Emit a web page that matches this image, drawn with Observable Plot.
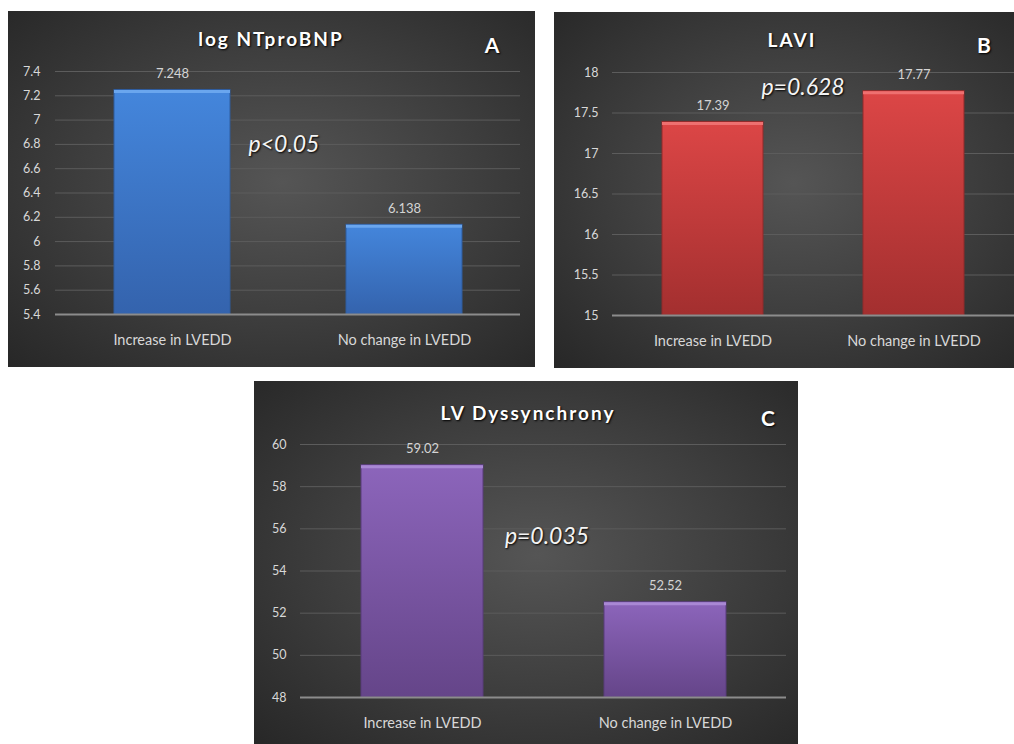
<!DOCTYPE html>
<html><head><meta charset="utf-8">
<script src="https://cdn.jsdelivr.net/npm/d3@7"></script>
<script src="https://cdn.jsdelivr.net/npm/@observablehq/plot@0.6"></script>
<style>
body{margin:0;background:#fff;}
#root{position:relative;width:1014px;height:744px;overflow:hidden;font-family:Lato,"Open Sans",sans-serif;}
.panel{position:absolute;background:radial-gradient(ellipse 75% 75% at 52% 48%, #555555 0%, #3e3e3e 50%, #262626 100%);}
.panel svg{position:absolute;left:0;top:0;}
.ann{position:absolute;transform:translate(-50%,-50%);white-space:nowrap;color:#fff;text-shadow:1px 1px 2px #000;}
.title{font-weight:bold;font-size:19px;letter-spacing:2px;}
.letter{font-weight:bold;font-size:21px;}
.pval{font-style:italic;font-size:23px;color:#f4f4f4;}
</style></head>
<body><div id="root"></div>
<script>
// ---- data ----
const categories = ["Increase in LVEDD", "No change in LVEDD"];
const ntprobnpValues = [7.248, 6.138];
const laviValues = [17.39, 17.77];
const dyssynchronyValues = [59.02, 52.52];
const ticksA = [5.4, 5.6, 5.8, 6, 6.2, 6.4, 6.6, 6.8, 7, 7.2, 7.4];
const ticksB = [15, 15.5, 16, 16.5, 17, 17.5, 18];
const ticksC = [48, 50, 52, 54, 56, 58, 60];
const titles = ["log NTproBNP", "LAVI", "LV Dyssynchrony"];
const letters = ["A", "B", "C"];
const pValues = ["p<0.05", "p=0.628", "p=0.035"];

// gradients for bars
const defs = d3.select("body").append("svg").attr("width", 0).attr("height", 0)
  .style("position", "absolute").append("defs");
function grad(id, top, bottom) {
  const g = defs.append("linearGradient").attr("id", id).attr("x1", 0).attr("y1", 0).attr("x2", 0).attr("y2", 1);
  g.append("stop").attr("offset", "0%").attr("stop-color", top);
  g.append("stop").attr("offset", "100%").attr("stop-color", bottom);
}
grad("gBlue", "#4486dc", "#3463ad");
grad("gRed", "#dc4646", "#a32f2f");
grad("gPurple", "#8c65bb", "#654589");

const root = document.getElementById("root");

function makePanel(cfg) {
  const div = document.createElement("div");
  div.className = "panel";
  Object.assign(div.style, {left: cfg.left + "px", top: cfg.top + "px", width: cfg.w + "px", height: cfg.h + "px"});
  const data = categories.map((c, i) => ({cat: c, v: cfg.values[i], base: cfg.ticks[0]}));
  const chart = Plot.plot({
    width: cfg.w, height: cfg.h,
    marginLeft: cfg.ml, marginRight: cfg.mr, marginTop: cfg.mt, marginBottom: cfg.mb,
    style: {background: "transparent", color: "#d8d8d8", fontFamily: "Lato, 'Open Sans', sans-serif", overflow: "visible"},
    x: {domain: categories, paddingInner: 0.5, paddingOuter: 0.25, label: null},
    y: {domain: [cfg.ticks[0], cfg.ticks[cfg.ticks.length - 1]], label: null},
    marks: [
      Plot.gridY(cfg.ticks.slice(1), {stroke: "#5c5c5c", strokeOpacity: 1, strokeWidth: 1}),
      Plot.barY(data, {x: "cat", y1: "base", y2: "v", fill: cfg.fill, stroke: cfg.edge, strokeWidth: 1}),
      Plot.tickY(data, {x: "cat", y: "v", stroke: cfg.hi, strokeWidth: 3, dy: 1.5}),
      Plot.ruleY([cfg.ticks[0]], {stroke: "#8c8c8c", strokeWidth: 2}),
      Plot.text(data, {x: "cat", y: "v", text: d => String(d.v), dy: -16, fill: "#d4d4d4", fontSize: 13}),
      Plot.axisY(cfg.ticks, {tickSize: 0, tickPadding: cfg.tp, fontSize: 12.5, fill: "#d8d8d8", tickFormat: d => String(d), label: null}),
      Plot.axisX({tickSize: 0, tickPadding: 20, fontSize: 14.5, fill: "#d8d8d8", label: null})
    ]
  });
  div.appendChild(chart);
  const add = (cls, text, x, y) => {
    const s = document.createElement("div");
    s.className = "ann " + cls; s.textContent = text;
    s.style.left = x + "px"; s.style.top = y + "px";
    div.appendChild(s);
  };
  add("title", cfg.title, cfg.tx, cfg.ty);
  add("letter", cfg.letter, cfg.lx, cfg.ly);
  add("pval", cfg.p, cfg.px, cfg.py);
  root.appendChild(div);
}

makePanel({left: 8, top: 11, w: 527, h: 356, ml: 47, mr: 15, mt: 60, mb: 53, tp: 15,
  values: ntprobnpValues, ticks: ticksA, fill: "url(#gBlue)", edge: "#2f5c9e", hi: "#6aa6ee",
  title: titles[0], tx: 263, ty: 27, letter: letters[0], lx: 484, ly: 33, p: pValues[0], px: 276, py: 132});
makePanel({left: 554, top: 12, w: 460, h: 356, ml: 58, mr: 0, mt: 60, mb: 53, tp: 14,
  values: laviValues, ticks: ticksB, fill: "url(#gRed)", edge: "#8f2a2a", hi: "#ee7070",
  title: titles[1], tx: 238, ty: 27, letter: letters[1], lx: 430, ly: 32, p: pValues[1], px: 249, py: 74});
makePanel({left: 254, top: 381, w: 544, h: 363, ml: 46, mr: 12, mt: 63, mb: 47, tp: 14,
  values: dyssynchronyValues, ticks: ticksC, fill: "url(#gPurple)", edge: "#583c7a", hi: "#a988d4",
  title: titles[2], tx: 274, ty: 31, letter: letters[2], lx: 514, ly: 36, p: pValues[2], px: 293, py: 154});
</script>
</body></html>
